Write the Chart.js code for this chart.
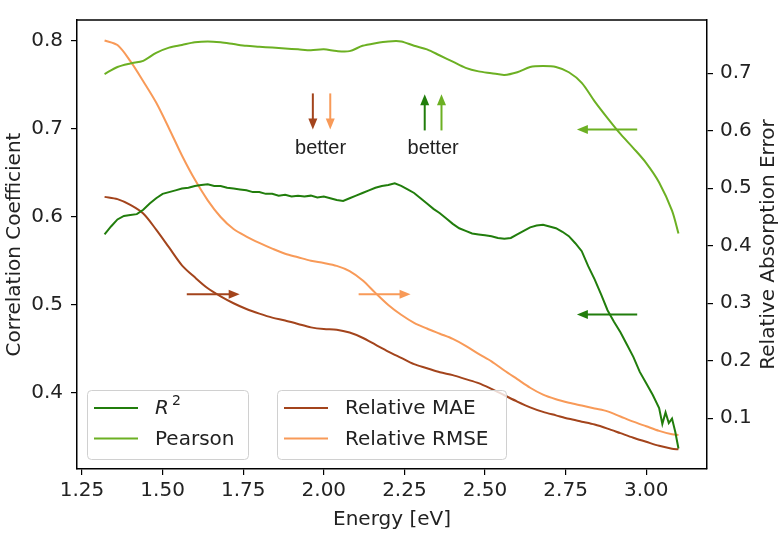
<!DOCTYPE html>
<html>
<head>
<meta charset="utf-8">
<script src="https://cdn.jsdelivr.net/npm/chart.js@4.4.0/dist/chart.umd.min.js"></script>
<style>
  html, body { margin: 0; padding: 0; background: #fff; }
</style>
</head>
<body>
<canvas id="grafico" width="784" height="534"></canvas>
<script>
// Energias (eV) das curvas suaves
const energia = [1.32,1.36,1.40,1.44,1.48,1.52,1.56,1.60,1.64,1.68,1.72,1.76,1.80,1.84,1.88,1.92,1.96,2.00,2.04,2.08,
  2.12,2.16,2.20,2.24,2.28,2.32,2.36,2.40,2.44,2.48,2.52,2.56,2.60,2.64,2.68,2.72,2.76,2.80,2.84,2.88,
  2.92,2.96,3.00,3.04,3.08,3.10];

// Eixo esquerdo
const pearson = [0.762,0.770,0.774,0.777,0.786,0.792,0.795,0.798,0.799,0.798,0.796,0.794,0.793,0.792,0.791,0.790,0.789,0.790,0.788,0.788,
  0.794,0.797,0.799,0.799,0.794,0.790,0.783,0.776,0.769,0.765,0.763,0.761,0.764,0.770,0.771,0.770,0.764,0.752,0.731,0.712,
  0.694,0.678,0.661,0.639,0.607,0.581];

// Eixo direito
const maeRel = [0.485,0.481,0.471,0.456,0.428,0.397,0.366,0.345,0.326,0.312,0.300,0.290,0.282,0.275,0.270,0.264,0.258,0.255,0.254,0.249,
  0.240,0.228,0.216,0.205,0.194,0.187,0.180,0.175,0.168,0.161,0.151,0.140,0.129,0.119,0.111,0.105,0.099,0.094,0.089,0.082,
  0.074,0.066,0.059,0.052,0.047,0.046];
const rmseRel = [0.757,0.749,0.721,0.686,0.649,0.604,0.557,0.515,0.479,0.450,0.429,0.416,0.405,0.395,0.386,0.380,0.374,0.370,0.365,0.356,
  0.340,0.318,0.297,0.280,0.266,0.256,0.247,0.238,0.226,0.212,0.199,0.183,0.168,0.153,0.141,0.133,0.127,0.122,0.117,0.112,
  0.103,0.094,0.086,0.078,0.072,0.071];

// R2 (mais ruidoso, amostrado mais fino)
const energiaR2 = [1.32,1.34,1.36,1.38,1.40,1.42,1.44,1.46,1.48,1.50,1.52,1.54,1.56,1.58,1.60,1.62,1.64,1.66,1.68,1.70,
  1.72,1.74,1.76,1.78,1.80,1.82,1.84,1.86,1.88,1.90,1.92,1.94,1.96,1.98,2.00,2.02,2.04,2.06,2.08,2.10,
  2.12,2.14,2.16,2.18,2.20,2.22,2.24,2.26,2.28,2.30,2.32,2.34,2.36,2.38,2.40,2.42,2.44,2.46,2.48,2.50,
  2.52,2.54,2.56,2.58,2.60,2.62,2.64,2.66,2.68,2.70,2.72,2.74,2.76,2.78,2.80,2.82,2.84,2.86,2.88,2.90,
  2.92,2.94,2.96,2.98,3.00,3.02,3.04,3.05,3.06,3.07,3.08,3.09,3.10];
const r2 = [0.580,0.589,0.597,0.601,0.602,0.603,0.608,0.615,0.621,0.626,0.628,0.630,0.632,0.633,0.635,0.636,0.637,0.635,0.635,0.633,
  0.632,0.631,0.630,0.628,0.628,0.626,0.626,0.624,0.625,0.623,0.624,0.623,0.624,0.622,0.623,0.621,0.619,0.618,0.621,0.624,
  0.627,0.630,0.633,0.635,0.636,0.638,0.635,0.631,0.627,0.621,0.615,0.609,0.604,0.598,0.592,0.587,0.584,0.581,0.580,0.579,
  0.578,0.576,0.575,0.576,0.580,0.584,0.588,0.590,0.591,0.589,0.587,0.583,0.578,0.570,0.561,0.544,0.529,0.512,0.494,0.481,
  0.469,0.455,0.441,0.424,0.411,0.398,0.383,0.365,0.378,0.366,0.371,0.356,0.337];

const ticksX = [1.25,1.50,1.75,2.00,2.25,2.50,2.75,3.00];
const ticksCorr = [0.4,0.5,0.6,0.7,0.8];
const ticksErro = [0.1,0.2,0.3,0.4,0.5,0.6,0.7];

const corR2 = '#217d0c', corPearson = '#6cb023', corMae = '#a3441c', corRmse = '#f89a58';

// Setas e textos (coordenadas de dados: energia, eixo esquerdo)
const setas = [
  {x1:1.966, y1:0.740, x2:1.966, y2:0.699, cor:corMae},
  {x1:2.020, y1:0.740, x2:2.020, y2:0.699, cor:corRmse},
  {x1:2.313, y1:0.698, x2:2.313, y2:0.739, cor:corR2},
  {x1:2.365, y1:0.698, x2:2.365, y2:0.739, cor:corPearson},
  {x1:2.972, y1:0.699, x2:2.785, y2:0.699, cor:corPearson},
  {x1:2.972, y1:0.489, x2:2.785, y2:0.489, cor:corR2},
  {x1:1.575, y1:0.512, x2:1.739, y2:0.512, cor:corMae},
  {x1:2.108, y1:0.512, x2:2.269, y2:0.512, cor:corRmse}
];
const textos = [
  {x:1.990, y:0.677, texto:'better'},
  {x:2.339, y:0.677, texto:'better'}
];
const tituloDireito = 'Relative Absorption Error';

const pontos = (xs, ys) => xs.map((x, i) => ({x, y: ys[i]}));
const fonte = {family:'DejaVu Sans', size:20};
const corTexto = '#222';

function seta(ctx, x1, y1, x2, y2, cor) {
  const a = Math.atan2(y2 - y1, x2 - x1), L = 11, W = 4.5;
  ctx.strokeStyle = cor; ctx.fillStyle = cor; ctx.lineWidth = 2;
  ctx.beginPath();
  ctx.moveTo(x1, y1);
  ctx.lineTo(x2 - L * 0.7 * Math.cos(a), y2 - L * 0.7 * Math.sin(a));
  ctx.stroke();
  ctx.beginPath();
  ctx.moveTo(x2, y2);
  ctx.lineTo(x2 - L * Math.cos(a) + W * Math.sin(a), y2 - L * Math.sin(a) - W * Math.cos(a));
  ctx.lineTo(x2 - L * Math.cos(a) - W * Math.sin(a), y2 - L * Math.sin(a) + W * Math.cos(a));
  ctx.closePath();
  ctx.fill();
}

function caixaLegenda(ctx, x, y, w, h, itens, datasets) {
  ctx.save();
  ctx.fillStyle = 'rgba(255,255,255,0.8)';
  ctx.strokeStyle = '#d0d0d0';
  ctx.lineWidth = 1;
  ctx.beginPath();
  ctx.roundRect(x + 0.5, y + 0.5, w, h, 4);
  ctx.fill(); ctx.stroke();
  itens.forEach((idx, k) => {
    const ds = datasets[idx];
    const ly = y + 18 + k * 30.5;
    ctx.strokeStyle = ds.borderColor; ctx.lineWidth = 2.2;
    ctx.beginPath(); ctx.moveTo(x + 7, ly); ctx.lineTo(x + 51, ly); ctx.stroke();
    ctx.fillStyle = corTexto;
    ctx.textBaseline = 'middle'; ctx.textAlign = 'left';
    if (ds.label === 'R²') {
      ctx.font = 'italic 20px "DejaVu Sans"';
      ctx.fillText('R', x + 68, ly + 1);
      ctx.font = '14px "DejaVu Sans"';
      ctx.fillText('2', x + 85, ly - 7);
    } else {
      ctx.font = '20px "DejaVu Sans"';
      ctx.fillText(ds.label, x + 68, ly + 1);
    }
  });
  ctx.restore();
}

const extras = {
  id: 'extras',
  afterDatasetsDraw(chart) {
    const {ctx, chartArea: ca, scales} = chart;
    const sx = scales.x, sy = scales.y;
    ctx.save();
    // moldura superior
    ctx.strokeStyle = '#000'; ctx.lineWidth = 1.5;
    ctx.beginPath(); ctx.moveTo(ca.left, ca.top); ctx.lineTo(ca.right, ca.top); ctx.stroke();

    setas.forEach(s => seta(ctx, sx.getPixelForValue(s.x1), sy.getPixelForValue(s.y1),
      sx.getPixelForValue(s.x2), sy.getPixelForValue(s.y2), s.cor));

    ctx.fillStyle = corTexto;
    ctx.font = '20px "Liberation Sans"';
    ctx.textAlign = 'center'; ctx.textBaseline = 'middle';
    textos.forEach(t => ctx.fillText(t.texto, sx.getPixelForValue(t.x), sy.getPixelForValue(t.y)));

    // titulo do eixo direito, lido de baixo para cima como no original
    ctx.font = '20px "DejaVu Sans"';
    ctx.translate(chart.width - 15, (ca.top + ca.bottom) / 2);
    ctx.rotate(-Math.PI / 2);
    ctx.fillText(tituloDireito, 0, 0);
    ctx.restore();

    const ds = chart.data.datasets;
    caixaLegenda(ctx, ca.left + 10, ca.bottom - 79, 161, 69, [0, 1], ds);
    caixaLegenda(ctx, ca.left + 200, ca.bottom - 79, 229, 69, [2, 3], ds);
  }
};

const fixTicks = lista => scale => { scale.ticks = lista.map(v => ({value: v})); };
const grade = {display: true, drawOnChartArea: false, drawTicks: true, tickLength: 6, color: '#000', lineWidth: 1.2};
const borda = {display: true, color: '#000', width: 1.5};

new Chart(document.getElementById('grafico'), {
  type: 'line',
  data: {
    datasets: [
      {label: 'R²', data: pontos(energiaR2, r2), yAxisID: 'y', borderColor: corR2, borderWidth: 2, pointRadius: 0, tension: 0},
      {label: 'Pearson', data: pontos(energia, pearson), yAxisID: 'y', borderColor: corPearson, borderWidth: 2, pointRadius: 0, tension: 0.3},
      {label: 'Relative MAE', data: pontos(energia, maeRel), yAxisID: 'y2', borderColor: corMae, borderWidth: 2, pointRadius: 0, tension: 0.3},
      {label: 'Relative RMSE', data: pontos(energia, rmseRel), yAxisID: 'y2', borderColor: corRmse, borderWidth: 2, pointRadius: 0, tension: 0.3}
    ]
  },
  options: {
    responsive: false,
    animation: false,
    devicePixelRatio: 1,
    layout: {padding: {top: 3, left: 0, right: 0, bottom: 0}},
    plugins: {legend: {display: false}, tooltip: {enabled: false}},
    scales: {
      x: {
        type: 'linear', min: 1.2345, max: 3.1885,
        afterBuildTicks: fixTicks(ticksX),
        afterFit: s => { s.height = 65; },
        grid: grade, border: borda,
        ticks: {font: fonte, color: corTexto, padding: 4, maxRotation: 0, callback: v => v.toFixed(2)},
        title: {display: true, text: 'Energy [eV]', font: fonte, color: corTexto, padding: {top: 0, bottom: 2}}
      },
      y: {
        type: 'linear', position: 'left', min: 0.3138, max: 0.8233,
        afterBuildTicks: fixTicks(ticksCorr),
        afterFit: s => { s.width = 77; },
        grid: grade, border: borda,
        ticks: {font: fonte, color: corTexto, padding: 8, callback: v => v.toFixed(1)},
        title: {display: true, text: 'Correlation Coefficient', font: fonte, color: corTexto, padding: {top: 3, bottom: 0}}
      },
      y2: {
        type: 'linear', position: 'right', min: 0.0117, max: 0.7926,
        afterBuildTicks: fixTicks(ticksErro),
        afterFit: s => { s.width = 77; },
        grid: grade, border: borda,
        ticks: {font: fonte, color: corTexto, padding: 7, callback: v => v.toFixed(1)},
        title: {display: false}
      }
    }
  },
  plugins: [extras]
});
</script>
</body>
</html>
